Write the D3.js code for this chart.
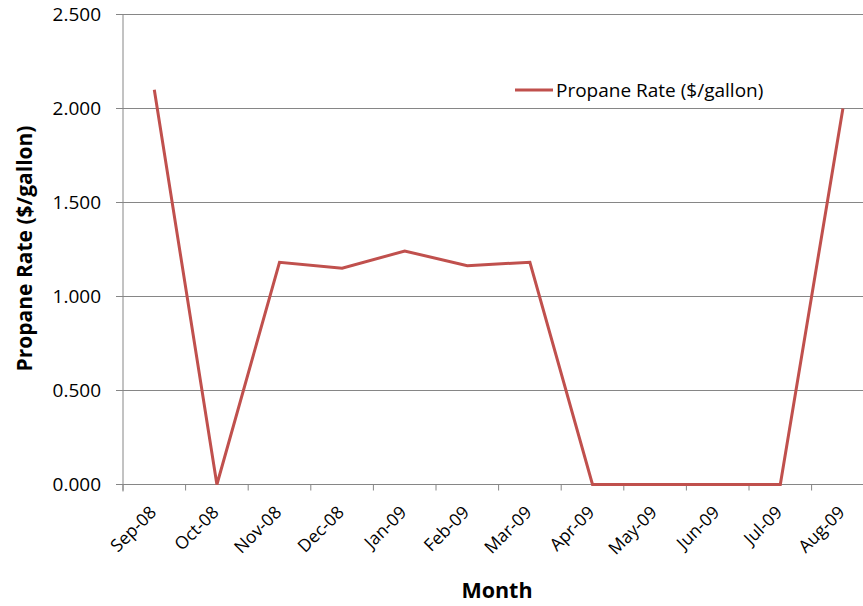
<!DOCTYPE html>
<html>
<head>
<meta charset="utf-8">
<script src="https://cdn.jsdelivr.net/npm/d3@7"></script>
<style>
  body { margin: 0; background: #fff; }
  svg { display: block; }
  text { font-family: "Open Sans", Lato, sans-serif; fill: #000; }
</style>
</head>
<body>
<svg id="chart" width="863" height="606"></svg>
<script>
// Monthly propane rate, Sep 2008 – Aug 2009
const months = ["Sep-08","Oct-08","Nov-08","Dec-08","Jan-09","Feb-09","Mar-09","Apr-09","May-09","Jun-09","Jul-09","Aug-09"];
const propaneRate = [2.10, 0, 1.182, 1.150, 1.242, 1.164, 1.182, 0, 0, 0, 0, 2.0];
const yTicks = [0, 0.5, 1.0, 1.5, 2.0, 2.5];
const seriesName = "Propane Rate ($/gallon)";

const svg = d3.select("#chart");
const plot = { left: 123, top: 14.5, bottom: 484.5, step: 62.6 };

const x = d3.scaleBand().domain(months)
  .range([plot.left, plot.left + months.length * plot.step]).padding(0);
const y = d3.scaleLinear().domain([0, 2.5]).range([plot.bottom, plot.top]);

const gridColor = "#868686";
const seriesColor = "#C0504D";

// horizontal gridlines (with left tick stubs)
svg.append("g").selectAll("line").data(yTicks).join("line")
  .attr("x1", plot.left - 7).attr("x2", 863)
  .attr("y1", d => y(d)).attr("y2", d => y(d))
  .attr("stroke", gridColor).attr("stroke-width", 1);

// y axis line
svg.append("line")
  .attr("x1", plot.left).attr("x2", plot.left)
  .attr("y1", y(2.5)).attr("y2", y(0) + 7)
  .attr("stroke", gridColor).attr("stroke-width", 1);

// y tick labels
svg.append("g").selectAll("text").data(yTicks).join("text")
  .attr("x", 101).attr("y", d => y(d) + 6.5)
  .attr("text-anchor", "end")
  .attr("font-size", 19)
  .text(d => d3.format(".3f")(d));

// x tick marks at category boundaries
svg.append("g").selectAll("line").data(months).join("line")
  .attr("x1", d => x(d)).attr("x2", d => x(d))
  .attr("y1", y(0)).attr("y2", y(0) + 6)
  .attr("stroke", gridColor).attr("stroke-width", 1);

// x tick labels, rotated
svg.append("g").selectAll("text").data(months).join("text")
  .attr("transform", d => `translate(${x(d) + x.bandwidth() / 2 + 3},${y(0) + 29}) rotate(-45)`)
  .attr("text-anchor", "end")
  .attr("font-size", 17.5)
  .text(d => d);

// series line
const line = d3.line()
  .x((d, i) => x(months[i]) + x.bandwidth() / 2)
  .y(d => y(d));

svg.append("path")
  .datum(propaneRate)
  .attr("d", line)
  .attr("fill", "none")
  .attr("stroke", seriesColor)
  .attr("stroke-width", 3)
  .attr("stroke-linejoin", "miter");

// axis titles
svg.append("text")
  .attr("transform", `translate(32,${(y(0) + y(2.5)) / 2 - 1}) rotate(-90)`)
  .attr("text-anchor", "middle")
  .attr("font-size", 21).attr("font-weight", "bold")
  .text(seriesName);

svg.append("text")
  .attr("x", 497).attr("y", 598)
  .attr("text-anchor", "middle")
  .attr("font-size", 21.5).attr("font-weight", "bold")
  .text("Month");

// legend
const legend = svg.append("g").attr("transform", "translate(515,90)");
legend.append("line")
  .attr("x1", 0).attr("x2", 38).attr("y1", 0).attr("y2", 0)
  .attr("stroke", seriesColor).attr("stroke-width", 3);
legend.append("text")
  .attr("x", 41).attr("y", 7)
  .attr("font-size", 19)
  .text(seriesName);
</script>
</body>
</html>
